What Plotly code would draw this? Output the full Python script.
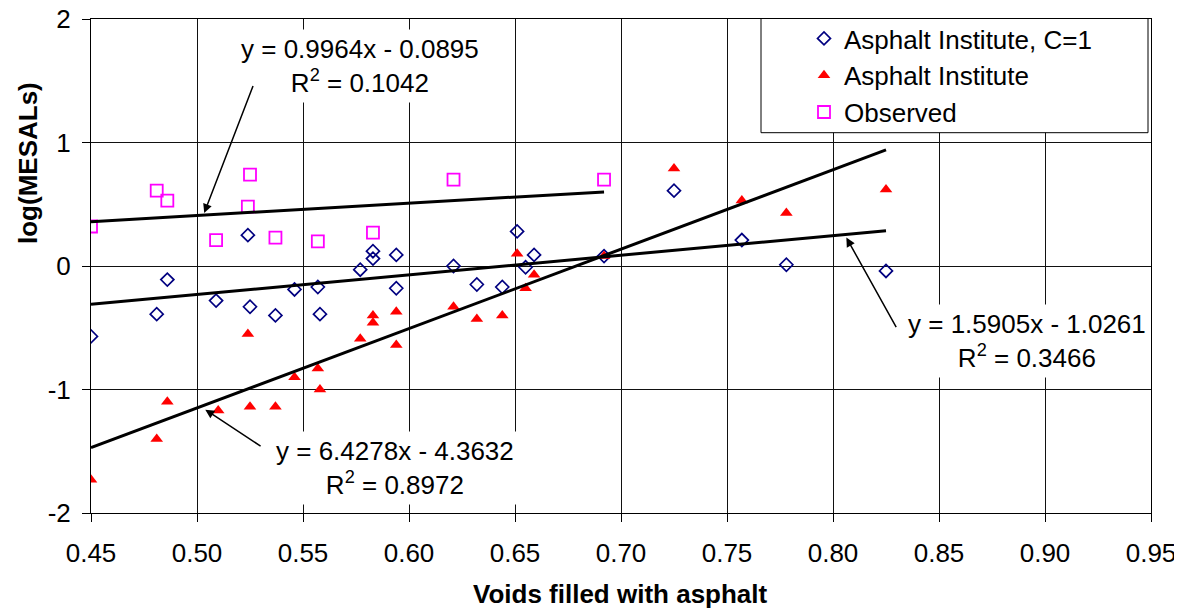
import numpy as np
import plotly.graph_objects as go

# Voids filled with asphalt (x) vs log(MESALs) (y)
vfa_ai_c1 = [0.450, 0.486, 0.481, 0.509, 0.524, 0.525, 0.537, 0.546, 0.557, 0.558,
             0.577, 0.583, 0.583, 0.594, 0.594, 0.621, 0.632, 0.644, 0.651, 0.655,
             0.659, 0.692, 0.725, 0.757, 0.778, 0.825]
log_ai_c1 = [-0.57, -0.11, -0.39, -0.28, 0.25, -0.33, -0.40, -0.19, -0.17, -0.39,
             -0.03, 0.12, 0.06, 0.09, -0.18, 0.00, -0.15, -0.17, 0.28, -0.01,
             0.09, 0.08, 0.61, 0.21, 0.01, -0.04]

vfa_ai = [0.450, 0.481, 0.486, 0.510, 0.524, 0.525, 0.537, 0.546, 0.557, 0.558,
          0.577, 0.583, 0.583, 0.594, 0.594, 0.621, 0.632, 0.644, 0.651, 0.655,
          0.659, 0.692, 0.725, 0.757, 0.778, 0.825]
log_ai = [-1.73, -1.40, -1.10, -1.17, -0.55, -1.14, -1.14, -0.90, -0.83, -1.00,
          -0.59, -0.40, -0.46, -0.37, -0.64, -0.33, -0.43, -0.40, 0.10, -0.18,
          -0.07, 0.08, 0.79, 0.53, 0.43, 0.62]

vfa_obs = [0.450, 0.481, 0.486, 0.509, 0.524, 0.525, 0.537, 0.557, 0.583, 0.621, 0.692]
log_obs = [0.32, 0.61, 0.53, 0.21, 0.48, 0.74, 0.23, 0.20, 0.27, 0.70, 0.70]

# linear trendlines as printed on the chart: slope, intercept
fit_obs = [0.9964, -0.0895]
fit_ai_c1 = [1.5905, -1.0261]
fit_ai = [6.4278, -4.3632]

x_tickvals = [0.45, 0.50, 0.55, 0.60, 0.65, 0.70, 0.75, 0.80, 0.85, 0.90, 0.95]
x_ticktext = ["0.45", "0.50", "0.55", "0.60", "0.65", "0.70", "0.75", "0.80", "0.85", "0.90", "0.95"]
y_tickvals = [-2, -1, 0, 1, 2]
y_ticktext = ["-2", "-1", "0", "1", "2"]

FONT = "Liberation Sans, Arial, sans-serif"
FS = 26
OFF = 8  # page body margin, the figure starts 8px in from the window corner
W, H = 1182 - OFF, 612 - OFF
ML, MR, MT, MB = 91 - OFF, 31, 19 - OFF, 99
PW, PH = W - ML - MR, H - MT - MB


def px_to_paper(px, py):
    # window pixels -> paper coords
    return (px - OFF - ML) / PW, (H - MB - (py - OFF)) / PH


def trend(xs, fit):
    xx = np.array([min(xs), max(xs)])
    return xx, fit[0] * xx + fit[1]


fig = go.Figure()

fig.add_trace(go.Scatter(
    x=vfa_ai_c1, y=log_ai_c1, mode="markers", name="Asphalt Institute, C=1",
    marker=dict(symbol="diamond-open", size=10, color="#000080", line=dict(width=1.7, color="#000080"))
))
fig.add_trace(go.Scatter(
    x=vfa_ai, y=log_ai, mode="markers", name="Asphalt Institute",
    marker=dict(symbol="triangle-up", size=11, color="#FF0000", line=dict(width=0))
))
fig.add_trace(go.Scatter(
    x=vfa_obs, y=log_obs, mode="markers", name="Observed",
    marker=dict(symbol="square-open", size=12, color="#FF00FF", line=dict(width=1.8, color="#FF00FF"))
))

for xs, fit in [(vfa_obs, fit_obs), (vfa_ai_c1, fit_ai_c1), (vfa_ai, fit_ai)]:
    tx, ty = trend(xs, fit)
    fig.add_trace(go.Scatter(x=tx, y=ty, mode="lines", line=dict(color="black", width=3),
                             showlegend=False, hoverinfo="skip"))

# equation labels
labels = [
    (0.577, 1.617, "y = 0.9964x - 0.0895<br>R<sup>2</sup> = 0.1042"),
    (0.8917, -0.61, "y = 1.5905x - 1.0261<br>R<sup>2</sup> = 0.3466"),
    (0.5935, -1.638, "y = 6.4278x - 4.3632<br>R<sup>2</sup> = 0.8972"),
]
for lx, ly, txt in labels:
    fig.add_annotation(x=lx, y=ly, xref="x", yref="y", text=txt, showarrow=False,
                       xanchor="center", yanchor="middle",
                       font=dict(family=FONT, size=FS, color="black"),
                       bgcolor="white", borderpad=4, align="center")

# arrows: head (x, y), tail (ax, ay)
arrows = [
    (0.5034, 0.429, 0.5267, 1.469),
    (0.8063, 0.230, 0.8302, -0.507),
    (0.5039, -1.163, 0.5307, -1.466),
]
for hx, hy, tx_, ty_ in arrows:
    fig.add_annotation(x=hx, y=hy, ax=tx_, ay=ty_, xref="x", yref="y", axref="x", ayref="y",
                       text="", showarrow=True, arrowhead=2, arrowsize=1.2, arrowwidth=1.5,
                       arrowcolor="black")

# axis titles
yt_x, yt_y = px_to_paper(28, 163)
fig.add_annotation(x=yt_x, y=yt_y, xref="paper", yref="paper", text="<b>log(MESALs)</b>",
                   showarrow=False, textangle=-90, xanchor="center", yanchor="middle",
                   font=dict(family=FONT, size=FS, color="black"))
xt_x, xt_y = px_to_paper(620.7, 594)
fig.add_annotation(x=xt_x, y=xt_y, xref="paper", yref="paper", text="<b>Voids filled with asphalt</b>",
                   showarrow=False, xanchor="center", yanchor="middle",
                   font=dict(family=FONT, size=FS, color="black"))

# legend frame
lx0, ly0 = px_to_paper(761, 18.5)
lx1, ly1 = px_to_paper(1148, 132.7)
fig.add_shape(type="rect", xref="paper", yref="paper", x0=lx0, x1=lx1, y0=ly1, y1=ly0,
              line=dict(color="black", width=1), fillcolor="white", layer="above")

leg_x, leg_y = px_to_paper(804, 15)
fig.update_layout(
    width=W, height=H,
    margin=dict(l=ML, r=MR, t=MT, b=MB, autoexpand=False),
    paper_bgcolor="white", plot_bgcolor="white",
    font=dict(family=FONT, size=FS, color="black"),
    showlegend=True,
    legend=dict(x=leg_x, y=leg_y, xanchor="left", yanchor="top", bgcolor="rgba(0,0,0,0)",
                borderwidth=0, font=dict(family=FONT, size=FS, color="black"), tracegroupgap=0),
    xaxis=dict(range=[0.45, 0.95], tickvals=x_tickvals, ticktext=x_ticktext, automargin=False,
               showgrid=True, gridcolor="#111", gridwidth=1, zeroline=False,
               showline=True, linecolor="black", linewidth=1, mirror=True,
               ticks="outside", ticklen=8, tickcolor="black", ticklabelstandoff=9,
               ticklabeloverflow="allow",
               tickfont=dict(family=FONT, size=FS, color="black")),
    yaxis=dict(range=[-2, 2], tickvals=y_tickvals, ticktext=y_ticktext, automargin=False,
               showgrid=True, gridcolor="#111", gridwidth=1, zeroline=False,
               showline=True, linecolor="black", linewidth=1, mirror=True,
               ticks="outside", ticklen=8, tickcolor="black", ticklabelstandoff=6,
               ticklabeloverflow="allow",
               tickfont=dict(family=FONT, size=FS, color="black")),
)

fig.write_html("out.html")
